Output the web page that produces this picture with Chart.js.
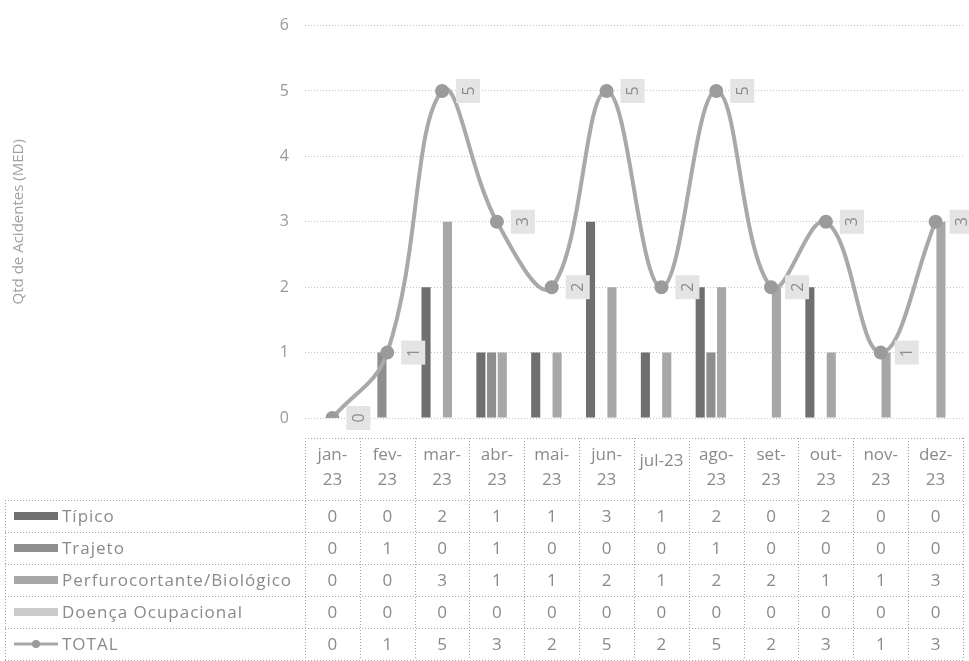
<!DOCTYPE html>
<html>
<head>
<meta charset="utf-8">
<script src="https://cdn.jsdelivr.net/npm/chart.js@4.4.0/dist/chart.umd.min.js"></script>
<style>
  html, body { margin: 0; padding: 0; background: #fff; overflow: hidden; }
  #wrap { position: relative; width: 972px; height: 661px; }
</style>
</head>
<body>
<div id="wrap"><canvas id="chart" width="972" height="661"></canvas></div>
<script>
// Data
const months = [['jan-', '23'], ['fev-', '23'], ['mar-', '23'], ['abr-', '23'], ['mai-', '23'], ['jun-', '23'],
                ['jul-23'], ['ago-', '23'], ['set-', '23'], ['out-', '23'], ['nov-', '23'], ['dez-', '23']];
const seriesNames = ['Típico', 'Trajeto', 'Perfurocortante/Biológico', 'Doença Ocupacional'];
const tipico  = [0, 0, 2, 1, 1, 3, 1, 2, 0, 2, 0, 0];
const trajeto = [0, 1, 0, 1, 0, 0, 0, 1, 0, 0, 0, 0];
const perfuro = [0, 0, 3, 1, 1, 2, 1, 2, 2, 1, 1, 3];
const doenca  = [0, 0, 0, 0, 0, 0, 0, 0, 0, 0, 0, 0];
const total   = [0, 1, 5, 3, 2, 5, 2, 5, 2, 3, 1, 3];
const yTicks = [0, 1, 2, 3, 4, 5, 6];
const yTitle = 'Qtd de Acidentes (MED)';

// greys of the scanned print
const barColors = ['#6f6f6f', '#8e8e8e', '#a7a7a7', '#cbcbcb'];
const lineColor = '#a9a9a9';
const textGrey = '#8a8a8a';

const barSeries = [tipico, trajeto, perfuro, doenca];

// boxed value labels next to each TOTAL point (text turned 90deg)
const totalLabels = {
    id: 'totalLabels',
    afterDatasetsDraw(chart) {
        const ctx = chart.ctx;
        const meta = chart.getDatasetMeta(4);
        ctx.save();
        ctx.font = '16px "Open Sans", sans-serif';
        ctx.textAlign = 'center';
        ctx.textBaseline = 'middle';
        meta.data.forEach((pt, i) => {
            const x = pt.x + 26, y = pt.y;
            ctx.fillStyle = '#e4e4e4';
            ctx.fillRect(x - 12, y - 12, 24, 24);
            ctx.fillStyle = '#8c8c8c';
            ctx.save();
            ctx.translate(x, y);
            ctx.rotate(-Math.PI / 2);
            ctx.fillText(String(total[i]), 0, 1);
            ctx.restore();
        });
        ctx.restore();
    }
};

// Excel style data table under the plot, columns follow the x scale
const dataTable = {
    id: 'dataTable',
    afterDraw(chart) {
        const ctx = chart.ctx;
        const xs = chart.scales.x;
        const half = (xs.getPixelForValue(1) - xs.getPixelForValue(0)) / 2;
        const firstLeft = xs.getPixelForValue(0) - half;
        const right = xs.getPixelForValue(months.length - 1) + half;
        const top = 438, headH = 62, rowH = 32, left = 5;
        const rows = [
            { name: seriesNames[0], data: tipico, color: barColors[0] },
            { name: seriesNames[1], data: trajeto, color: barColors[1] },
            { name: seriesNames[2], data: perfuro, color: barColors[2] },
            { name: seriesNames[3], data: doenca, color: barColors[3] },
            { name: 'TOTAL', data: total, line: true }
        ];
        const bodyTop = top + headH;
        const bottom = bodyTop + rows.length * rowH;

        ctx.save();
        ctx.strokeStyle = '#a5a5a5';
        ctx.lineWidth = 1;
        ctx.setLineDash([1, 2]);
        function hline(x1, x2, y) { ctx.beginPath(); ctx.moveTo(x1, y + 0.5); ctx.lineTo(x2, y + 0.5); ctx.stroke(); }
        function vline(x, y1, y2) { ctx.beginPath(); ctx.moveTo(Math.round(x) + 0.5, y1); ctx.lineTo(Math.round(x) + 0.5, y2); ctx.stroke(); }

        hline(firstLeft, right, top);
        for (let r = 0; r <= rows.length; r++) hline(left, right, bodyTop + r * rowH);
        vline(left, bodyTop, bottom);
        for (let i = 0; i <= months.length; i++) vline(firstLeft + i * half * 2, top, bottom);
        ctx.setLineDash([]);

        ctx.textAlign = 'center';
        ctx.textBaseline = 'middle';
        ctx.fillStyle = textGrey;
        ctx.font = '17px "Open Sans", sans-serif';
        months.forEach((m, i) => {
            const cx = xs.getPixelForValue(i);
            if (m.length === 1) {
                ctx.fillText(m[0], cx, top + headH / 2 - 8);
            } else {
                ctx.fillText(m[0], cx, top + 17);
                ctx.fillText(m[1], cx, top + 42);
            }
        });

        rows.forEach((row, r) => {
            const cy = bodyTop + r * rowH + rowH / 2;
            // legend key
            if (row.line) {
                ctx.strokeStyle = lineColor;
                ctx.lineWidth = 3;
                ctx.beginPath(); ctx.moveTo(14, cy); ctx.lineTo(58, cy); ctx.stroke();
                ctx.fillStyle = '#9a9a9a';
                ctx.beginPath(); ctx.arc(36, cy, 4, 0, Math.PI * 2); ctx.fill();
            } else {
                ctx.fillStyle = row.color;
                ctx.fillRect(14, cy - 4, 44, 8);
            }
            ctx.fillStyle = textGrey;
            ctx.textAlign = 'left';
            ctx.font = '17px "Open Sans", sans-serif';
            ctx.letterSpacing = '1px';
            ctx.fillText(row.name, 62, cy + 1);
            ctx.letterSpacing = '0px';
            ctx.textAlign = 'center';
            ctx.font = '17px "Open Sans", sans-serif';
            row.data.forEach((v, i) => ctx.fillText(String(v), xs.getPixelForValue(i), cy + 1));
        });
        ctx.restore();
    }
};

const datasets = seriesNames.map((name, k) => ({
    type: 'bar',
    label: name,
    data: barSeries[k],
    backgroundColor: barColors[k],
    categoryPercentage: 0.78,
    barPercentage: 0.85,
    order: 1
}));
datasets.push({
    type: 'line',
    label: 'TOTAL',
    data: total,
    borderColor: lineColor,
    borderWidth: 4,
    tension: 0.4,
    pointRadius: 5,
    pointBackgroundColor: '#9b9b9b',
    pointBorderColor: '#9b9b9b',
    order: 0
});

new Chart(document.getElementById('chart'), {
    data: { labels: months.map(m => m.join('')), datasets: datasets },
    options: {
        responsive: false,
        animation: false,
        layout: { padding: { top: 14, bottom: 243, left: 0, right: 0 } },
        plugins: { legend: { display: false }, tooltip: { enabled: false } },
        scales: {
            x: { display: false },
            y: {
                min: yTicks[0],
                max: yTicks[yTicks.length - 1],
                afterFit(scale) { scale.width = 305; },
                ticks: { stepSize: 1, color: '#9a9a9a', font: { size: 16, family: '"Open Sans", sans-serif' }, padding: 16 },
                grid: { color: '#c4c4c4', drawTicks: false },
                border: { display: false, dash: [1, 2] },
                title: { display: true, text: yTitle, color: '#a0a0a0', font: { size: 15, family: '"Open Sans", sans-serif' }, padding: { top: 10 } }
            }
        }
    },
    plugins: [totalLabels, dataTable]
});
</script>
</body>
</html>
